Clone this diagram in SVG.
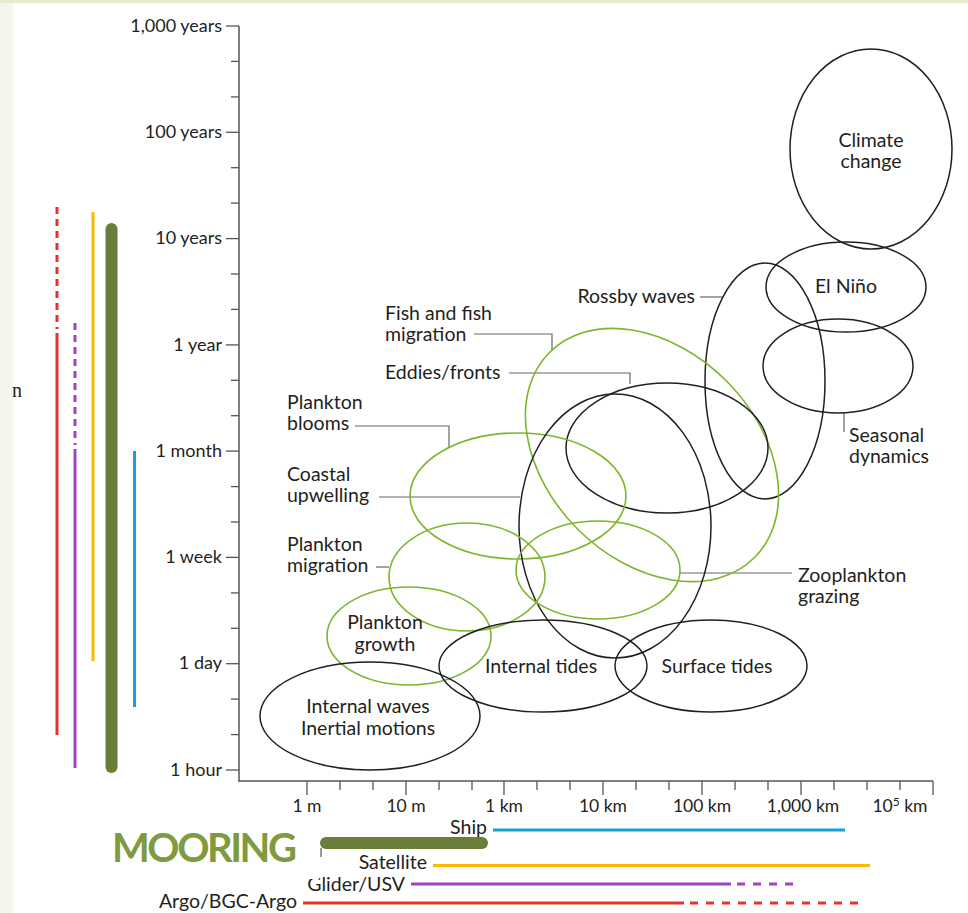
<svg xmlns="http://www.w3.org/2000/svg" width="968" height="913" viewBox="0 0 968 913">
<style>
text{font-family:Lato,"Liberation Sans",sans-serif;fill:#231f20}
.ax{font-size:18px}
.xl{font-size:17.5px}
.lb{font-size:19.5px}
.bl{font-size:19.5px}
.tk{stroke:#555;stroke-width:1.3}
.ell{fill:none;stroke:#231f20;stroke-width:1.5}
.gr{fill:none;stroke:#7db52c;stroke-width:1.6}
.ld{fill:none;stroke:#666;stroke-width:1.2}
.mid{text-anchor:middle}
.end{text-anchor:end}
</style>
<rect x="0" y="0" width="968" height="913" fill="#f4f6eb"/>
<rect x="0" y="0" width="968" height="3" fill="#e4ecd0"/>
<rect x="13" y="3" width="955" height="910" fill="#fff"/>
<text x="12" y="397" style="font-family:'Liberation Serif',serif;font-size:20px">n</text>

<g id="axes">
<line x1="239" y1="26" x2="239" y2="781" stroke="#555" stroke-width="1.5"/>
<line x1="238" y1="781" x2="933" y2="781" stroke="#555" stroke-width="1.5"/>
<g class="tk">
<line x1="226" y1="26" x2="239" y2="26"/><line x1="231" y1="61.4" x2="239" y2="61.4"/><line x1="231" y1="96.9" x2="239" y2="96.9"/>
<line x1="226" y1="132.3" x2="239" y2="132.3"/><line x1="231" y1="167.7" x2="239" y2="167.7"/><line x1="231" y1="203.1" x2="239" y2="203.1"/>
<line x1="226" y1="238.6" x2="239" y2="238.6"/><line x1="231" y1="274" x2="239" y2="274"/><line x1="231" y1="309.4" x2="239" y2="309.4"/>
<line x1="226" y1="344.9" x2="239" y2="344.9"/><line x1="231" y1="380.3" x2="239" y2="380.3"/><line x1="231" y1="415.7" x2="239" y2="415.7"/>
<line x1="226" y1="451.1" x2="239" y2="451.1"/><line x1="231" y1="486.6" x2="239" y2="486.6"/><line x1="231" y1="522" x2="239" y2="522"/>
<line x1="226" y1="557.4" x2="239" y2="557.4"/><line x1="231" y1="592.9" x2="239" y2="592.9"/><line x1="231" y1="628.3" x2="239" y2="628.3"/>
<line x1="226" y1="663.7" x2="239" y2="663.7"/><line x1="231" y1="699.1" x2="239" y2="699.1"/><line x1="231" y1="734.6" x2="239" y2="734.6"/>
<line x1="226" y1="770" x2="239" y2="770"/>
<line x1="307" y1="781" x2="307" y2="795"/><line x1="340" y1="781" x2="340" y2="790"/><line x1="373" y1="781" x2="373" y2="790"/>
<line x1="406" y1="781" x2="406" y2="795"/><line x1="439" y1="781" x2="439" y2="790"/><line x1="472" y1="781" x2="472" y2="790"/>
<line x1="504" y1="781" x2="504" y2="795"/><line x1="537" y1="781" x2="537" y2="790"/><line x1="570" y1="781" x2="570" y2="790"/>
<line x1="603" y1="781" x2="603" y2="795"/><line x1="636" y1="781" x2="636" y2="790"/><line x1="669" y1="781" x2="669" y2="790"/>
<line x1="702" y1="781" x2="702" y2="795"/><line x1="735" y1="781" x2="735" y2="790"/><line x1="768" y1="781" x2="768" y2="790"/>
<line x1="801" y1="781" x2="801" y2="795"/><line x1="834" y1="781" x2="834" y2="790"/><line x1="867" y1="781" x2="867" y2="790"/>
<line x1="900" y1="781" x2="900" y2="790"/><line x1="933" y1="781" x2="933" y2="795"/>
</g>
<g class="ax end">
<text x="222" y="32">1,000 years</text>
<text x="222" y="138">100 years</text>
<text x="222" y="244">10 years</text>
<text x="222" y="351">1 year</text>
<text x="222" y="457">1 month</text>
<text x="222" y="563">1 week</text>
<text x="222" y="669">1 day</text>
<text x="222" y="776">1 hour</text>
</g>
<g class="xl mid">
<text x="307" y="812">1 m</text>
<text x="406" y="812">10 m</text>
<text x="504" y="812">1 km</text>
<text x="603" y="812">10 km</text>
<text x="702" y="812">100 km</text>
<text x="803" y="812">1,000 km</text>
<text x="900" y="812">10<tspan dy="-6" style="font-size:12px">5</tspan><tspan dy="6"> km</tspan></text>
</g>
</g>

<g id="instruments-vertical">
<line x1="57" y1="207" x2="57" y2="329" stroke="#e2332a" stroke-width="3" stroke-dasharray="7 5"/>
<line x1="57" y1="333" x2="57" y2="735" stroke="#e2332a" stroke-width="3"/>
<line x1="75" y1="323" x2="75" y2="445" stroke="#a044c2" stroke-width="3" stroke-dasharray="7 5"/>
<line x1="75" y1="449" x2="75" y2="768" stroke="#a044c2" stroke-width="3"/>
<line x1="93" y1="212" x2="93" y2="661" stroke="#fbb900" stroke-width="3"/>
<line x1="111.5" y1="229" x2="111.5" y2="767" stroke="#6b7d3a" stroke-width="12" stroke-linecap="round"/>
<line x1="134.5" y1="451" x2="134.5" y2="707" stroke="#1aa0d6" stroke-width="3"/>
</g>

<g id="instruments-horizontal">
<text x="112" y="862" style="font-size:40px;font-weight:700;fill:#809a40" textLength="185">MOORING</text>
<line x1="326" y1="843" x2="482" y2="843" stroke="#6b7d3a" stroke-width="12" stroke-linecap="round"/>
<line x1="321" y1="848" x2="321" y2="857" stroke="#555" stroke-width="1.2"/>
<text class="bl end" x="487" y="834">Ship</text>
<line x1="493" y1="830" x2="845" y2="830" stroke="#1aa0d6" stroke-width="3"/>
<text class="bl end" x="427" y="869">Satellite</text>
<line x1="433" y1="865.5" x2="870" y2="865.5" stroke="#fbb900" stroke-width="3"/>
<text class="bl end" x="405" y="891">Glider/USV</text>
<rect x="303" y="872" width="16" height="7" fill="#fff"/>
<line x1="411" y1="884" x2="731" y2="884" stroke="#a044c2" stroke-width="3"/>
<line x1="737" y1="884" x2="795" y2="884" stroke="#a044c2" stroke-width="3" stroke-dasharray="8 8"/>
<text class="bl end" x="297" y="908">Argo/BGC-Argo</text>
<line x1="303" y1="903" x2="684" y2="903" stroke="#e2332a" stroke-width="3"/>
<line x1="690" y1="903" x2="862" y2="903" stroke="#e2332a" stroke-width="3" stroke-dasharray="8 8"/>
</g>

<g id="connectors">
<path class="ld" d="M474 334 H552 V350"/>
<path class="ld" d="M509 373 H630 V384"/>
<path class="ld" d="M355 426 H449 V447"/>
<path class="ld" d="M379 497 H520"/>
<path class="ld" d="M376 567 H389"/>
<path class="ld" d="M700 297 H723"/>
<path class="ld" d="M844 413 V432"/>
<path class="ld" d="M680 573 H792"/>
</g>

<g id="climate-change">
<ellipse class="ell" cx="871" cy="149" rx="81" ry="100"/>
<text class="lb mid" x="871" y="147">Climate</text>
<text class="lb mid" x="871" y="168">change</text>
</g>
<g id="el-nino">
<ellipse class="ell" cx="846" cy="287" rx="80" ry="45"/>
<text class="lb mid" x="846" y="293">El Niño</text>
</g>
<g id="seasonal-dynamics">
<ellipse class="ell" cx="838" cy="366" rx="75" ry="47"/>
<text class="lb" x="849" y="442">Seasonal</text>
<text class="lb" x="849" y="463">dynamics</text>
</g>
<g id="rossby-waves">
<ellipse class="ell" cx="765" cy="381" rx="60" ry="118"/>
<text class="lb end" x="695" y="303">Rossby waves</text>
</g>
<g id="fish-migration">
<ellipse class="gr" cx="652" cy="455" rx="145" ry="105" transform="rotate(45 652 455)"/>
<text class="lb" x="385" y="320">Fish and fish</text>
<text class="lb" x="385" y="341">migration</text>
</g>
<g id="eddies-fronts">
<ellipse class="ell" cx="667" cy="448" rx="101" ry="65"/>
<text class="lb" x="385" y="379">Eddies/fronts</text>
</g>
<g id="plankton-blooms">
<ellipse class="gr" cx="518" cy="496" rx="108" ry="63"/>
<text class="lb" x="287" y="409">Plankton</text>
<text class="lb" x="287" y="430">blooms</text>
</g>
<g id="coastal-upwelling">
<ellipse class="ell" cx="615" cy="526" rx="96" ry="132"/>
<text class="lb" x="287" y="481">Coastal</text>
<text class="lb" x="287" y="502">upwelling</text>
</g>
<g id="plankton-migration">
<ellipse class="gr" cx="467" cy="577" rx="78" ry="54"/>
<text class="lb" x="287" y="551">Plankton</text>
<text class="lb" x="287" y="572">migration</text>
</g>
<g id="zooplankton-grazing">
<ellipse class="gr" cx="598" cy="570" rx="82" ry="49"/>
<text class="lb" x="798" y="582">Zooplankton</text>
<text class="lb" x="798" y="603">grazing</text>
</g>
<g id="plankton-growth">
<ellipse class="gr" cx="409" cy="636" rx="82" ry="49"/>
<text class="lb mid" x="385" y="629">Plankton</text>
<text class="lb mid" x="385" y="651">growth</text>
</g>
<g id="internal-tides">
<ellipse class="ell" cx="543" cy="666" rx="104" ry="46"/>
<text class="lb mid" x="541" y="673">Internal tides</text>
</g>
<g id="surface-tides">
<ellipse class="ell" cx="711" cy="666" rx="96" ry="46"/>
<text class="lb mid" x="717" y="673">Surface tides</text>
</g>
<g id="internal-waves">
<ellipse class="ell" cx="370" cy="716" rx="110" ry="54"/>
<text class="lb mid" x="368" y="713">Internal waves</text>
<text class="lb mid" x="368" y="735">Inertial motions</text>
</g>
</svg>
